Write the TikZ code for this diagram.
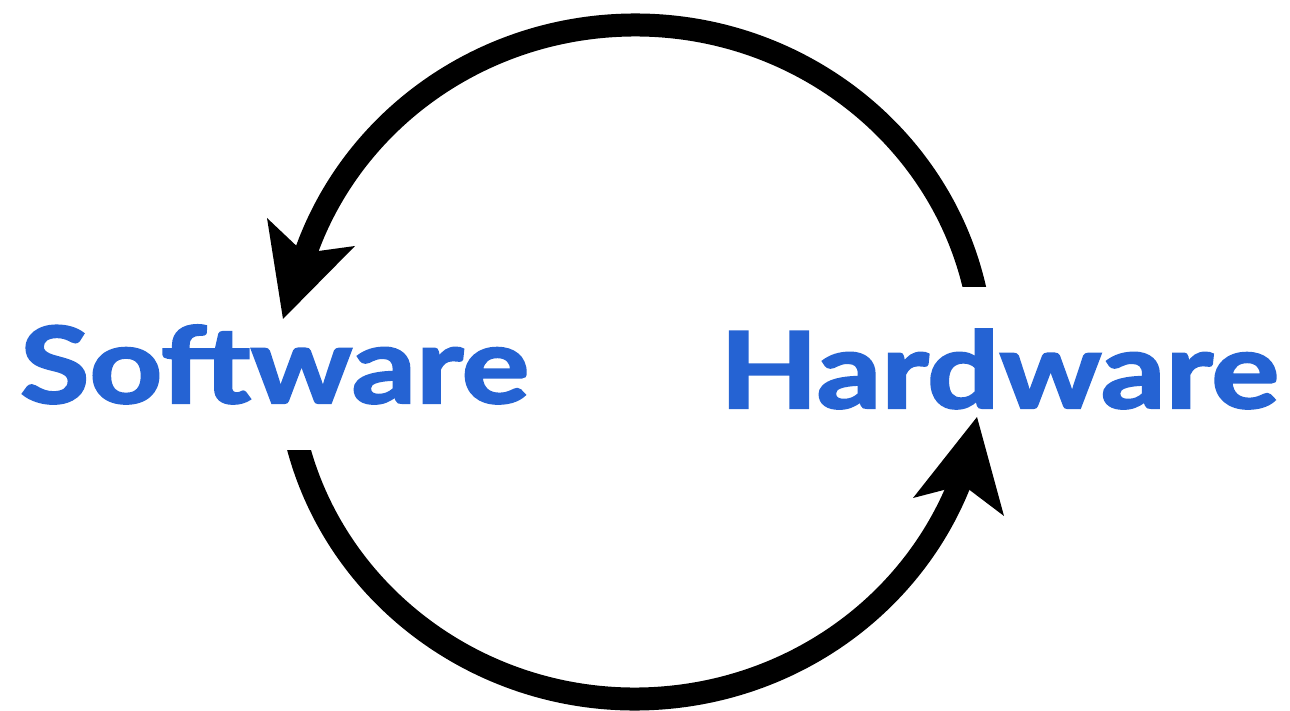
\documentclass[tikz,border=0pt]{standalone}
\usepackage{fontspec}
\setmainfont{Lato}
\newfontfamily\wordfont{Lato}[BoldFeatures={FakeBold=2}]
\usepackage{graphicx}
\usetikzlibrary{calc}
\definecolor{txtblue}{RGB}{37,99,211}
\begin{document}
\begin{tikzpicture}[x=1pt,y=1pt,
  word/.style={inner sep=0pt, outer sep=0pt, text=txtblue, font=\fontsize{106}{110}\wordfont\bfseries, anchor=base west},
  shaft/.style={line width=23pt, line cap=butt, draw=black},
  head/.style={fill=black, draw=none}]
\useasboundingbox (0,0) rectangle (1290,711);
\node[word] (sw) at (20,308) {\resizebox{509pt}{\height}{Software}};
\node[word] (hw) at (720,303) {\resizebox{559pt}{\height}{Hardware}};
\coordinate (C) at (635,349);
% top arc: Hardware -> Software
\coordinate (hwout) at ($(C)+(5:348 and 337)$);
\begin{scope}
  \clip (0,424) rectangle (1290,711);
  \draw[shaft] (hwout) arc[start angle=5, end angle=163.3, x radius=348pt, y radius=337pt] coordinate (swin);
\end{scope}
\coordinate (swtip) at (283,392);
\fill[head] (swtip) -- (267,493) -- (304,458) -- (355,465) -- cycle;
% bottom arc: Software -> Hardware
\coordinate (swout) at ($(C)+(188:348 and 337)$);
\begin{scope}
  \clip (0,0) rectangle (1290,260);
  \draw[shaft] (swout) arc[start angle=188, end angle=340.8, x radius=348pt, y radius=337pt] coordinate (hwin);
\end{scope}
\coordinate (hwtip) at (977,294);
\fill[head] (hwtip) -- (913,213) -- (963,226) -- (1004,195) -- cycle;
\end{tikzpicture}
\end{document}
